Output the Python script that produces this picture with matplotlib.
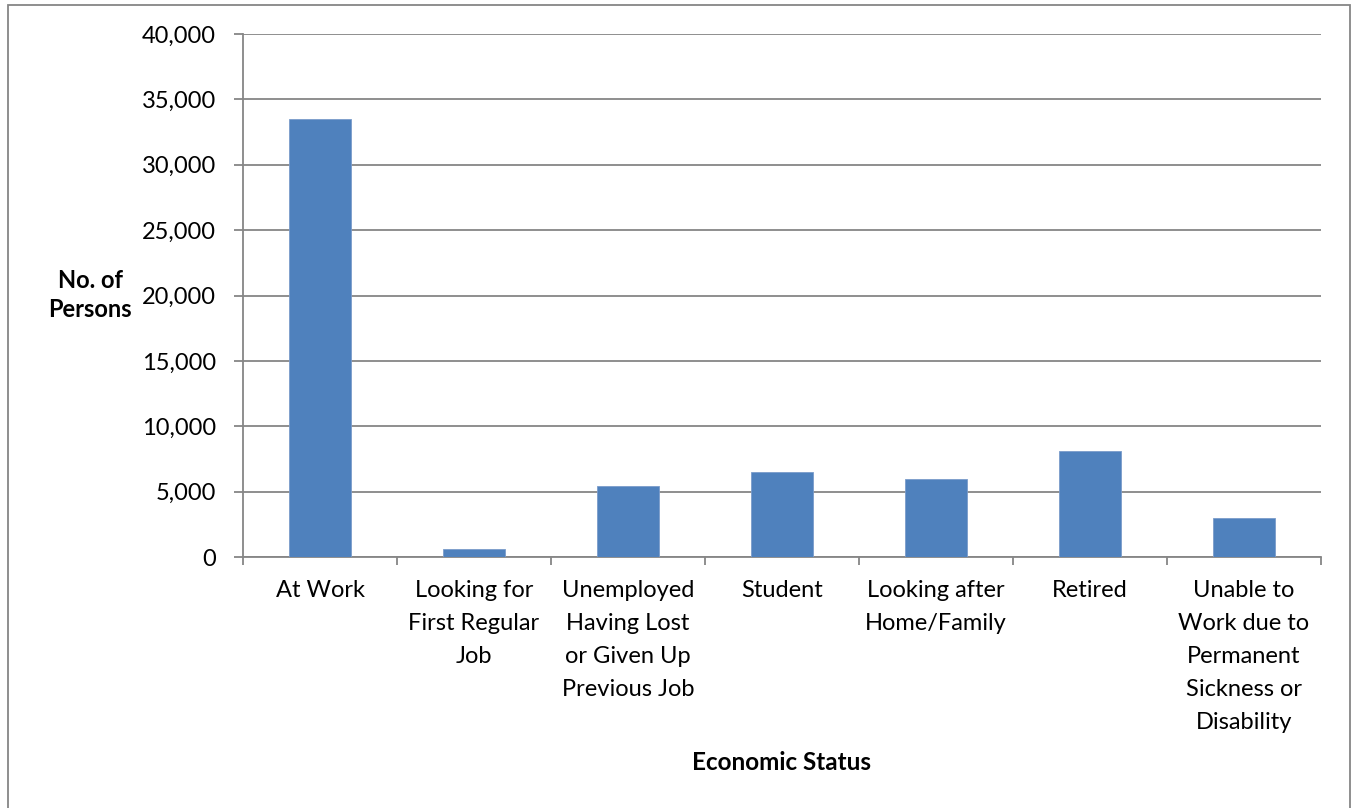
import matplotlib
matplotlib.use("Agg")
import matplotlib.pyplot as plt
from matplotlib.patches import Rectangle
from matplotlib.ticker import FuncFormatter, MultipleLocator

categories = [
    "At Work",
    "Looking for\nFirst Regular\nJob",
    "Unemployed\nHaving Lost\nor Given Up\nPrevious Job",
    "Student",
    "Looking after\nHome/Family",
    "Retired",
    "Unable to\nWork due to\nPermanent\nSickness or\nDisability",
]
persons = [33520, 600, 5460, 6480, 6000, 8070, 2970]

plt.rcParams['font.family'] = ['Lato', 'DejaVu Sans']
W, H = 1354, 808
fig = plt.figure(figsize=(W / 100, H / 100), dpi=100)
fig.patch.set_facecolor('white')

# outer chart border
fig.add_artist(Rectangle((7.5 / W, -0.01), (1350 - 7.5) / W, 1 - 4.5 / H + 0.01,
                         transform=fig.transFigure, fill=False,
                         edgecolor='#868686', linewidth=1.3))

ax = fig.add_axes([243 / W, 1 - 557 / H, (1321 - 243) / W, (557 - 34) / H])
gray = '#868686'
x = list(range(len(categories)))
ax.bar(x, persons, width=0.4, color='#4F81BD', edgecolor='#7A9CCB', linewidth=0.6, zorder=3)

ax.set_xlim(-0.5, len(categories) - 0.5)
ax.set_ylim(0, 40000)
ax.yaxis.set_major_locator(MultipleLocator(5000))
ax.yaxis.set_major_formatter(FuncFormatter(lambda v, p: f"{int(v):,}"))
ax.grid(axis='y', color=gray, linewidth=1.3, zorder=0)
ax.set_axisbelow(True)

for s in ['top', 'right']:
    ax.spines[s].set_visible(False)
for s in ['left', 'bottom']:
    ax.spines[s].set_color(gray)
    ax.spines[s].set_linewidth(1.3)

ax.tick_params(axis='y', direction='out', length=6.5, width=1.3, color=gray,
               labelsize=17, pad=13, labelcolor='black')
# x ticks at category boundaries
ax.set_xticks([i - 0.5 for i in range(len(categories) + 1)])
ax.set_xticklabels([])
ax.tick_params(axis='x', direction='out', length=6, width=1.3, color=gray)

for i, lab in enumerate(categories):
    ax.text(i, -0.044, lab, transform=ax.get_xaxis_transform(), ha='center', va='top',
            fontsize=17, linespacing=1.7)

fig.text(90 / W, 1 - 295 / H, "No. of\nPersons", ha='center', va='center',
         fontsize=17, fontweight='bold', linespacing=1.35)
fig.text(782 / W, 1 - 762 / H, "Economic Status", ha='center', va='center',
         fontsize=17.5, fontweight='bold')

fig.savefig("out.png", dpi=100, facecolor='white')
